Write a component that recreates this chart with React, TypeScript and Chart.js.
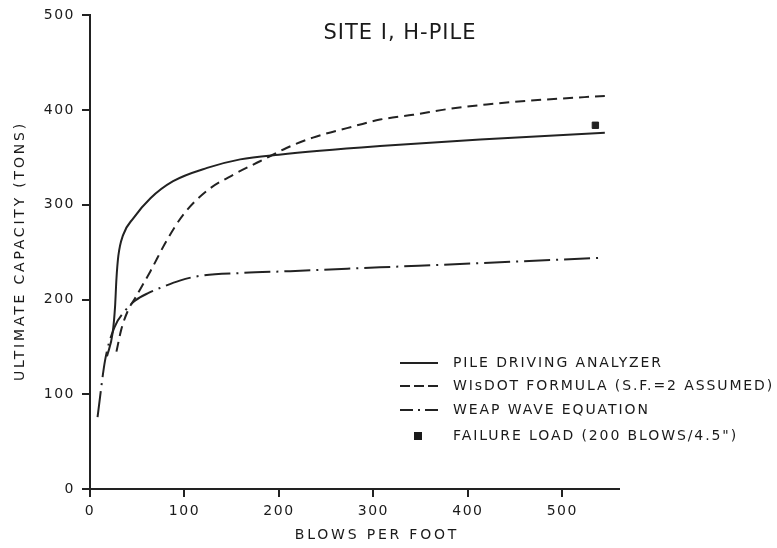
import React, { useEffect, useRef } from "react";
import { Chart, registerables } from "chart.js";

Chart.register(...registerables);

const TITLE = "SITE I, H-PILE";
const X_TITLE = "BLOWS PER FOOT";
const Y_TITLE = "ULTIMATE CAPACITY (TONS)";

const xTicks = [0, 100, 200, 300, 400, 500];
const yTicks = [0, 100, 200, 300, 400, 500];

const seriesLabels = [
  "PILE DRIVING ANALYZER",
  "WIsDOT FORMULA (S.F.=2 ASSUMED)",
  "WEAP WAVE EQUATION",
  'FAILURE LOAD (200 BLOWS/4.5")',
];

// Pile driving analyzer (solid)
const pdaX = [18, 24, 26.5, 28, 30, 35, 46, 64, 88, 124, 159, 200, 307, 413, 545];
const pdaY = [140, 165, 192, 222, 246, 268, 286, 307, 325, 339, 348, 353, 362, 369, 376];

// WisDOT formula (dashed)
const wisX = [28, 33, 40, 48, 64, 81, 99, 124, 152, 180, 208, 236, 272, 307, 342, 378, 420, 480, 545];
const wisY = [145, 168, 188, 202, 230, 262, 290, 315, 332, 346, 360, 371, 381, 390, 395, 401, 406, 411, 415];

// WEAP wave equation (dash-dot)
const weapX = [8, 16, 26, 37, 48, 62, 76, 95, 116, 159, 212, 307, 403, 540];
const weapY = [76, 136, 171, 188, 199, 207, 213, 220, 225, 228, 230, 234, 238, 244];

// Failure load point
const failX = [535];
const failY = [384];

const INK = "#222222";
const TEXT = "#1a1a1a";
const FONT = '"DejaVu Sans", sans-serif';

const pts = (xs: number[], ys: number[]) => xs.map((x, i) => ({ x, y: ys[i] }));

const deco = {
  id: "deco",
  beforeUpdate(chart: any) {
    chart.ctx.letterSpacing = "1.5px";
  },
  beforeDraw(chart: any) {
    chart.ctx.letterSpacing = "1.5px";
  },
  afterDraw(chart: any) {
    const ctx = chart.ctx as CanvasRenderingContext2D;
    ctx.save();
    ctx.fillStyle = TEXT;
    ctx.strokeStyle = INK;
    ctx.textBaseline = "middle";

    // chart title
    ctx.textAlign = "center";
    ctx.font = `21px ${FONT}`;
    (ctx as any).letterSpacing = "1px";
    ctx.fillText(TITLE, 400, 34);

    // axis titles
    ctx.font = `14px ${FONT}`;
    (ctx as any).letterSpacing = "2.8px";
    ctx.fillText(X_TITLE, 377, 535);
    ctx.save();
    ctx.translate(20, 251);
    ctx.rotate(-Math.PI / 2);
    ctx.fillText(Y_TITLE, 0, 0);
    ctx.restore();

    // legend
    const rows = [363, 386, 410, 436];
    const dashes = [[], [10, 4], [13, 5, 2, 5]];
    ctx.textAlign = "left";
    ctx.font = `14px ${FONT}`;
    (ctx as any).letterSpacing = "1.9px";
    for (let i = 0; i < 4; i++) {
      const y = rows[i];
      if (i < 3) {
        ctx.save();
        ctx.lineWidth = 2;
        ctx.setLineDash(dashes[i]);
        ctx.beginPath();
        ctx.moveTo(400, y);
        ctx.lineTo(438, y);
        ctx.stroke();
        ctx.restore();
      } else {
        ctx.fillRect(414, y - 4, 8, 8);
      }
      ctx.fillText(seriesLabels[i], 453, y);
    }
    ctx.restore();
  },
};

export default function App() {
  const ref = useRef<HTMLCanvasElement | null>(null);

  useEffect(() => {
    if (!ref.current) return;
    const lineCommon = {
      borderColor: INK,
      backgroundColor: INK,
      borderWidth: 2,
      pointRadius: 0,
      fill: false,
      cubicInterpolationMode: "monotone" as const,
    };
    const chart = new Chart(ref.current, {
      type: "line",
      data: {
        datasets: [
          { ...lineCommon, label: seriesLabels[0], data: pts(pdaX, pdaY) },
          { ...lineCommon, label: seriesLabels[1], data: pts(wisX, wisY), borderDash: [10, 6] },
          { ...lineCommon, label: seriesLabels[2], data: pts(weapX, weapY), borderDash: [26, 6, 2, 6] },
          {
            label: seriesLabels[3],
            data: pts(failX, failY),
            showLine: false,
            pointStyle: "rect",
            pointRadius: 4.5,
            pointBackgroundColor: INK,
            pointBorderColor: INK,
            borderColor: INK,
            backgroundColor: INK,
          },
        ],
      },
      options: {
        responsive: false,
        animation: false,
        layout: { padding: { left: 0, right: 158, top: 14, bottom: 0 } },
        plugins: {
          legend: { display: false },
          tooltip: { enabled: false },
          title: { display: false },
        },
        scales: {
          x: {
            type: "linear",
            min: 0,
            max: 560,
            afterBuildTicks: (s: any) => {
              s.ticks = xTicks.map((v) => ({ value: v }));
            },
            afterFit: (s: any) => {
              s.height = 59;
            },
            grid: {
              drawOnChartArea: false,
              drawTicks: true,
              tickLength: 8,
              color: INK,
              lineWidth: 2,
            },
            border: { display: true, color: INK, width: 2 },
            ticks: {
              color: TEXT,
              font: { family: FONT, size: 14 },
              padding: 6,
              maxRotation: 0,
            },
          },
          y: {
            type: "linear",
            min: 0,
            max: 500,
            afterBuildTicks: (s: any) => {
              s.ticks = yTicks.map((v) => ({ value: v }));
            },
            afterFit: (s: any) => {
              s.width = 90;
            },
            grid: {
              drawOnChartArea: false,
              drawTicks: true,
              tickLength: 8,
              color: INK,
              lineWidth: 2,
            },
            border: { display: true, color: INK, width: 2 },
            ticks: {
              color: TEXT,
              font: { family: FONT, size: 14 },
              padding: 7,
            },
          },
        },
      },
      plugins: [deco],
    });
    return () => chart.destroy();
  }, []);

  return (
    <div style={{ position: "absolute", left: 0, top: 0, width: 777, height: 548, background: "#fff" }}>
      <canvas ref={ref} width={777} height={548} style={{ display: "block", width: 777, height: 548 }} />
    </div>
  );
}
